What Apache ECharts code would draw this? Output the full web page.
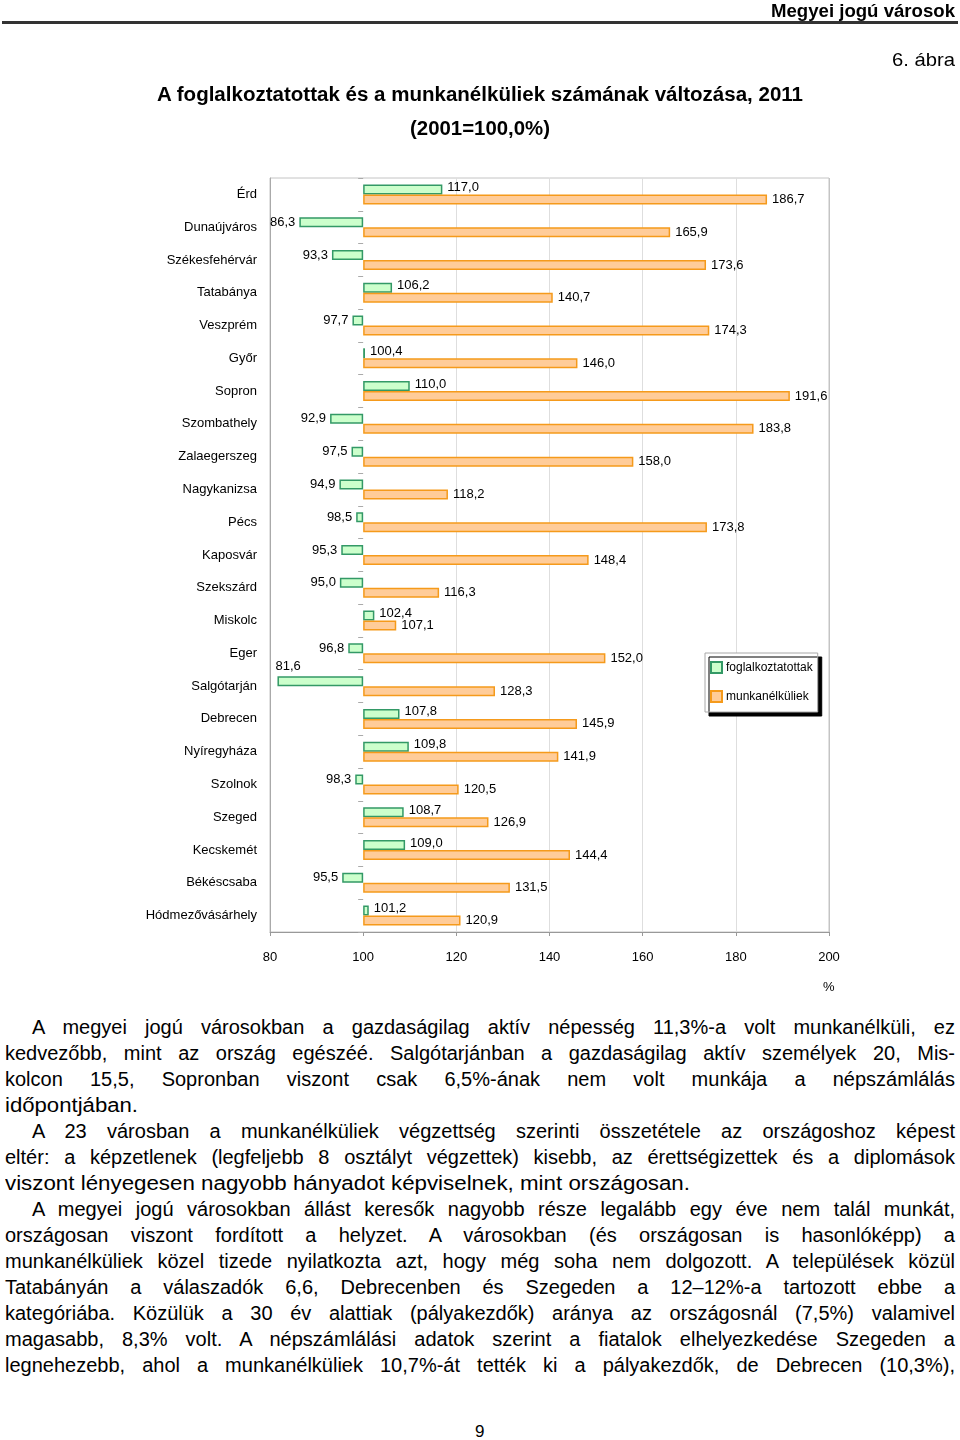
<!DOCTYPE html>
<html><head><meta charset="utf-8">
<script src="https://cdn.jsdelivr.net/npm/echarts/dist/echarts.min.js"></script>
<style>
html,body{margin:0;padding:0;background:#fff;}
body{width:960px;height:1440px;position:relative;overflow:hidden;font-family:"Liberation Sans",Arial,sans-serif;color:#000;}
.t{position:absolute;white-space:nowrap;display:inline-block;transform-origin:left center;}
#chart{position:absolute;left:0;top:0;width:960px;height:1000px;}
#rule{position:absolute;left:2px;top:21px;width:956px;height:2.5px;background:#333;}
</style></head>
<body>
<div id="chart"></div>
<div id="rule"></div>
<script>
const cities = ["Érd","Dunaújváros","Székesfehérvár","Tatabánya","Veszprém","Győr","Sopron","Szombathely","Zalaegerszeg","Nagykanizsa","Pécs","Kaposvár","Szekszárd","Miskolc","Eger","Salgótarján","Debrecen","Nyíregyháza","Szolnok","Szeged","Kecskemét","Békéscsaba","Hódmezővásárhely"];
const employed = [117.0,86.3,93.3,106.2,97.7,100.4,110.0,92.9,97.5,94.9,98.5,95.3,95.0,102.4,96.8,81.6,107.8,109.8,98.3,108.7,109.0,95.5,101.2];
const unemployed = [186.7,165.9,173.6,140.7,174.3,146.0,191.6,183.8,158.0,118.2,173.8,148.4,116.3,107.1,152.0,128.3,145.9,141.9,120.5,126.9,144.4,131.5,120.9];
const seriesNames = ["foglalkoztatottak","munkanélküliek"];
const axisTicks = [80,100,120,140,160,180,200];
const BASE = 100;

const headerTexts = {
  top: "Megyei jogú városok",
  fig: "6. ábra",
  title1: "A foglalkoztatottak és a munkanélküliek számának változása, 2011",
  title2: "(2001=100,0%)",
  page: "9"
};
const paragraphLines = [
  ["A megyei jogú városokban a gazdaságilag aktív népesség 11,3%-a volt munkanélküli, ez", 1, 1],
  ["kedvezőbb, mint az ország egészéé. Salgótarjánban a gazdaságilag aktív személyek 20, Mis-", 0, 1],
  ["kolcon 15,5, Sopronban viszont csak 6,5%-ának nem volt munkája a népszámlálás", 0, 1],
  ["időpontjában.", 0, 0],
  ["A 23 városban a munkanélküliek végzettség szerinti összetétele az országoshoz képest", 1, 1],
  ["eltér: a képzetlenek (legfeljebb 8 osztályt végzettek) kisebb, az érettségizettek és a diplomások", 0, 1],
  ["viszont lényegesen nagyobb hányadot képviselnek, mint országosan.", 0, 0],
  ["A megyei jogú városokban állást keresők nagyobb része legalább egy éve nem talál munkát,", 1, 1],
  ["országosan viszont fordított a helyzet. A városokban (és országosan is hasonlóképp) a", 0, 1],
  ["munkanélküliek közel tizede nyilatkozta azt, hogy még soha nem dolgozott. A települések közül", 0, 1],
  ["Tatabányán a válaszadók 6,6, Debrecenben és Szegeden a 12–12%-a tartozott ebbe a", 0, 1],
  ["kategóriába. Közülük a 30 év alattiak (pályakezdők) aránya az országosnál (7,5%) valamivel", 0, 1],
  ["magasabb, 8,3% volt. A népszámlálási adatok szerint a fiatalok elhelyezkedése Szegeden a", 0, 1],
  ["legnehezebb, ahol a munkanélküliek 10,7%-át tették ki a pályakezdők, de Debrecen (10,3%),", 0, 1]
];
const lastLineWidths = {3: 133, 6: 685};

function fmt(v){ return v.toFixed(1).replace('.', ','); }

// ---------- text layout ----------
function addText(txt, left, cy, size, bold, W, justify){
  const d = document.createElement('div');
  d.className = 't';
  d.textContent = txt;
  d.style.fontSize = size + 'px';
  d.style.lineHeight = Math.round(size*1.3) + 'px';
  d.style.fontWeight = bold ? 'bold' : 'normal';
  d.style.left = left + 'px';
  d.style.top = (cy - Math.round(size*1.3)/2) + 'px';
  document.body.appendChild(d);
  d._W = W; d._j = justify;
  return d;
}
const texts = [];
texts.push(addText(headerTexts.top, 771, 11, 18, true, 184, false));
texts.push(addText(headerTexts.fig, 892, 59, 19, false, 63, false));
texts.push(addText(headerTexts.title1, 157, 94, 20, true, 646, false));
texts.push(addText(headerTexts.title2, 410, 128, 20, true, 140, false));
paragraphLines.forEach((l, i) => {
  const left = l[1] ? 32 : 5;
  const W = l[2] ? 955 - left : lastLineWidths[i];
  texts.push(addText(l[0], left, 1027 + 26*i, 20, false, W, !!l[2]));
});
const pg = addText(headerTexts.page, 475, 1432, 17, false, 0, false);

function fitAll(){
  texts.forEach(d => {
    d.style.transform = ''; d.style.wordSpacing = '';
    const w = d.getBoundingClientRect().width;
    if (!d._W) return;
    if (d._j) {
      if (w > d._W) d.style.transform = 'scaleX(' + (d._W/w) + ')';
      else {
        const n = (d.textContent.match(/ /g)||[]).length;
        if (n) d.style.wordSpacing = ((d._W - w)/n) + 'px';
      }
    } else {
      d.style.transform = 'scaleX(' + (d._W/w) + ')';
    }
  });
}
fitAll();
if (document.fonts && document.fonts.ready) document.fonts.ready.then(fitAll);

// ---------- chart ----------
const FONT = "Liberation Sans";
const chart = echarts.init(document.getElementById('chart'), null, {renderer:'canvas'});

function empLabel(v){
  if (v < 85) return {position:[-2,-16], align:'left', verticalAlign:'top'};
  if (v < BASE) return {position:'left', distance:4, offset:[0,0]};
  return {position:'right', distance:5, offset:[0,-2]};
}

chart.setOption({
  animation:false,
  textStyle:{fontFamily:FONT},
  grid:{left:270, top:178, width:559, height:754, show:true, borderColor:'#c4c4c4', borderWidth:1, containLabel:false},
  legend:{
    orient:'vertical', left:705, top:653,
    data:seriesNames,
    itemWidth:11, itemHeight:11, itemGap:16,
    padding:[8,5,9,5],
    backgroundColor:'#fff', borderColor:'#a8a8a8', borderWidth:1,
    shadowColor:'#000', shadowOffsetX:4, shadowOffsetY:4, shadowBlur:0,
    textStyle:{fontSize:12, color:'#000', fontFamily:FONT, padding:[0,0,0,-1]},
    icon:'rect', selectedMode:false
  },
  xAxis:{
    type:'value', min:axisTicks[0]-BASE, max:axisTicks[axisTicks.length-1]-BASE, interval:axisTicks[1]-axisTicks[0],
    axisLine:{show:true, onZero:false, lineStyle:{color:'#999', width:1}},
    axisTick:{show:true, length:4, lineStyle:{color:'#999'}},
    axisLabel:{margin:19, fontSize:13, color:'#000', fontFamily:FONT, formatter:v => String(v + BASE)},
    splitLine:{show:true, lineStyle:{color:['#c4c4c4','rgba(0,0,0,0)','#dedede','#dedede','#dedede','#dedede','#c4c4c4'], width:1}}
  },
  yAxis:[{
    type:'category', data:cities, inverse:true, position:'left',
    axisLine:{show:true, onZero:false, lineStyle:{color:'#aaa'}},
    axisTick:{show:false},
    axisLabel:{margin:13, fontSize:13, color:'#000', fontFamily:FONT, padding:[0,0,6,0]}
  },{
    type:'category', data:cities, inverse:true, position:'left',
    axisLine:{show:true, onZero:true, lineStyle:{color:'rgba(0,0,0,0)'}},
    axisTick:{show:true, length:5, lineStyle:{color:'#aaa'}},
    axisLabel:{show:false}
  }],
  graphic:[{type:'text', left:823, top:981, style:{text:'%', fontSize:13, fill:'#000', fontFamily:FONT}}],
  series:[{
    name:seriesNames[0], type:'bar', yAxisIndex:0, barWidth:10, barGap:'0%',
    itemStyle:{color:'#ccffcc', borderColor:'#339966', borderWidth:1.5},
    label:{show:true, fontSize:13, color:'#000', fontFamily:FONT, formatter:p => fmt(employed[p.dataIndex])},
    data:employed.map(v => ({value:+(v-BASE).toFixed(1), label:empLabel(v)}))
  },{
    name:seriesNames[1], type:'bar', yAxisIndex:0, barWidth:10, barGap:'0%',
    itemStyle:{color:'#ffcc99', borderColor:'#f59a1b', borderWidth:1.5},
    label:{show:true, position:'right', distance:5, fontSize:13, color:'#000', fontFamily:FONT, formatter:p => fmt(unemployed[p.dataIndex])},
    data:unemployed.map(v => +(v-BASE).toFixed(1))
  }]
});
</script>
</body></html>
